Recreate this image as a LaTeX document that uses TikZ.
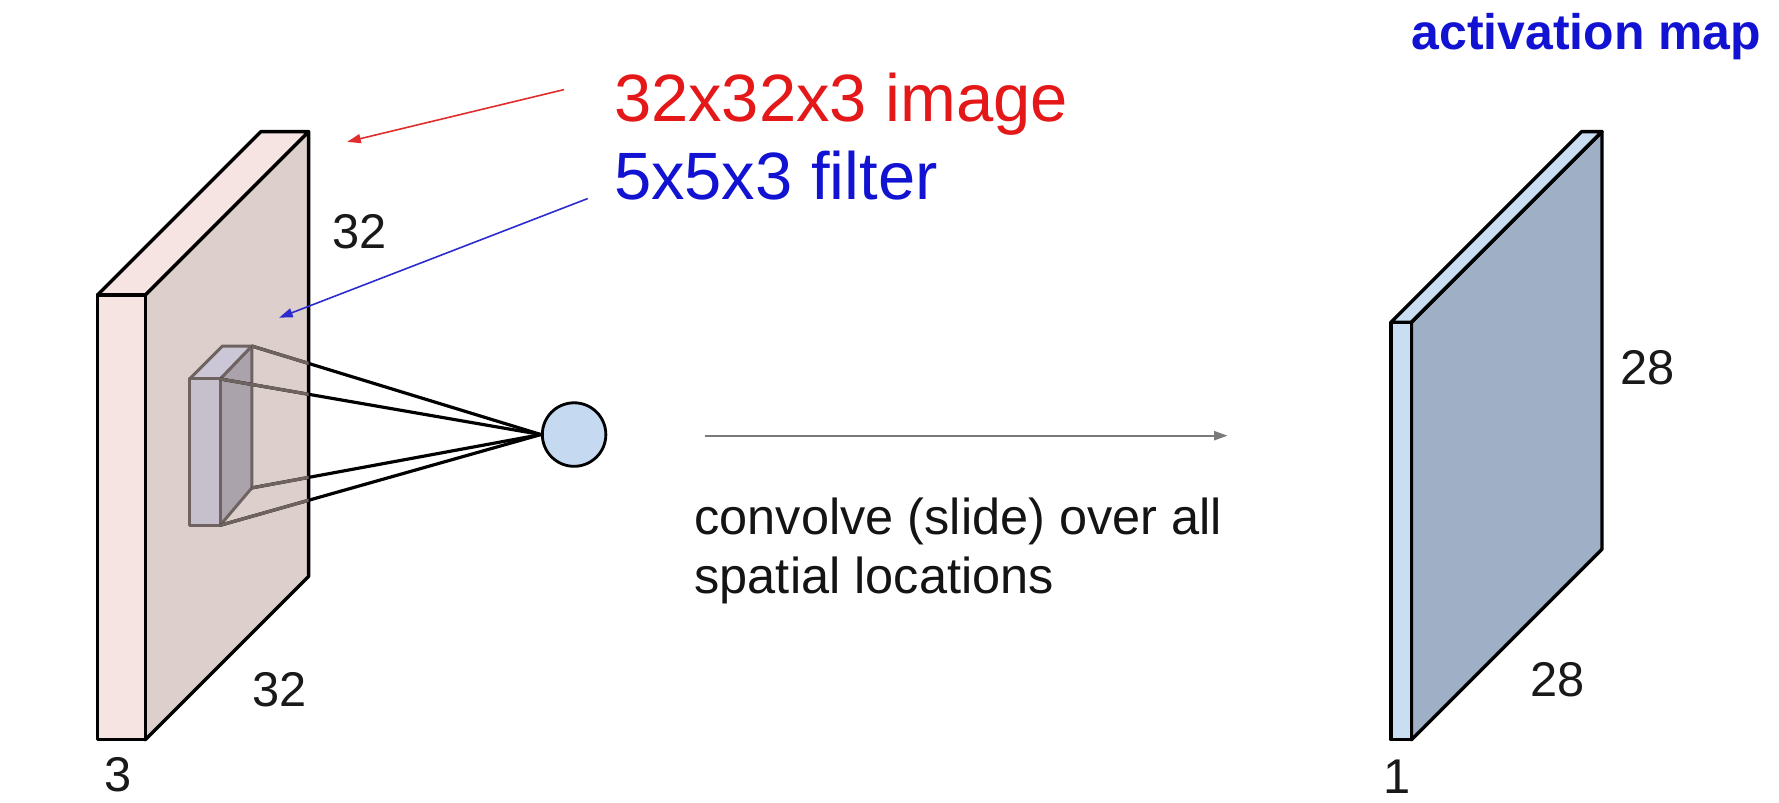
\documentclass[tikz,border=0pt]{standalone}
\usepackage{fontspec}
\setmainfont{Liberation Sans}
\usetikzlibrary{arrows.meta}
\definecolor{slabfront}{HTML}{F5E4E1}
\definecolor{slabside}{HTML}{DDCFCB}
\definecolor{filtfront}{HTML}{C6BFCC}
\definecolor{filttop}{HTML}{CCC7D6}
\definecolor{filtside}{HTML}{ABA3AB}
\definecolor{filtedge}{HTML}{6E6360}
\definecolor{neuronfill}{HTML}{C5DAF1}
\definecolor{mapfront}{HTML}{C9DDF3}
\definecolor{mapside}{HTML}{9FAFC5}
\definecolor{txtred}{HTML}{E41818}
\definecolor{txtblue}{HTML}{1212D2}
\definecolor{linered}{HTML}{E02C2C}
\definecolor{lineblue}{HTML}{2B2BD0}
\definecolor{greyarrow}{HTML}{7A7A7A}
\tikzset{
  slabline/.style={draw=black, line width=3pt, line join=round},
  filtline/.style={draw=filtedge, line width=2.6pt, line join=round},
  conn/.style={draw=black, line width=2.8pt},
  conninner/.style={draw=filtedge, line width=2.8pt},
  dimlabel/.style={font=\fontsize{43}{50}\selectfont, anchor=base west, inner sep=0pt, text=black!90},
  bigred/.style={font=\fontsize{59}{68}\selectfont, anchor=base west, inner sep=0pt, text=txtred},
  bigblue/.style={font=\fontsize{59}{68}\selectfont, anchor=base west, inner sep=0pt, text=txtblue},
  convtext/.style={font=\fontsize{44.5}{52}\selectfont, anchor=base west, inner sep=0pt, text=black!92},
}
\begin{document}
\begin{tikzpicture}[x=1pt,y=-1pt]
\useasboundingbox (0,0) rectangle (1568,707);
\fill[white] (0,0) rectangle (1568,707);

% ---- input volume 32x32x3
\coordinate (sA) at (86,260);
\coordinate (sB) at (128,260);
\coordinate (sC) at (128,652);
\coordinate (sD) at (86,652);
\coordinate (sE) at (230,116);
\coordinate (sF) at (272,116);
\coordinate (sG) at (272,508);
\filldraw[slabline, fill=slabside] (sB) -- (sF) -- (sG) -- (sC) -- cycle;
\filldraw[slabline, fill=slabfront] (sA) -- (sE) -- (sF) -- (sB) -- cycle;
\filldraw[slabline, fill=slabfront] (sA) -- (sB) -- (sC) -- (sD) -- cycle;

% ---- filter 5x5x3
\coordinate (fA) at (167,334);
\coordinate (fB) at (194,334);
\coordinate (fC) at (194,463);
\coordinate (fD) at (167,463);
\coordinate (fE) at (196,305);
\coordinate (fF) at (222,305);
\coordinate (fG) at (222,430);
\filldraw[filtline, fill=filtside] (fB) -- (fF) -- (fG) -- (fC) -- cycle;
\filldraw[filtline, fill=filttop] (fA) -- (fE) -- (fF) -- (fB) -- cycle;
\filldraw[filtline, fill=filtfront] (fA) -- (fB) -- (fC) -- (fD) -- cycle;

% ---- neuron
\node[circle, draw=black, line width=2.5pt, fill=neuronfill, minimum size=56pt, inner sep=0pt] (neuron) at (506,383) {};

% connectors from filter corners to neuron
\foreach \c in {fF,fB,fG,fC} \draw[conn] (\c) -- (neuron.west);
\begin{scope}
  \clip (sB) -- (sF) -- (sG) -- (sC) -- cycle;
  \foreach \c in {fF,fB,fG,fC} \draw[conninner] (\c) -- (neuron.west);
\end{scope}

% ---- labels of input volume
\node[dimlabel] (l32a) at (293,219) {32};
\node[dimlabel] (l32b) at (222,623) {32};
\node[dimlabel] (l3) at (92,698) {3};

% ---- annotation texts and arrows
\node[bigred] (imgtxt) at (541,107) {32x32x3 image};
\node[bigblue] (filttxt) at (541,176) {5x5x3 filter};
\coordinate (redS) at (497,79);
\coordinate (redE) at (306,125);
\draw[linered, line width=1.4pt, -{Triangle[length=12pt,width=8pt]}] (redS) -- (redE);
\coordinate (blueS) at (518,175);
\coordinate (blueE) at (246,280);
\draw[lineblue, line width=1.4pt, -{Triangle[length=12pt,width=8pt]}] (blueS) -- (blueE);

% ---- convolve arrow
\coordinate (gS) at (621,384);
\coordinate (gE) at (1082,384);
\draw[greyarrow, line width=2pt, -{Triangle[length=12pt,width=8pt]}] (gS) -- (gE);
\node[convtext] (conv1) at (612,471.5) {convolve (slide) over all};
\node[convtext] (conv2) at (612,523) {spatial locations};

% ---- activation map
\coordinate (mA) at (1226,284);
\coordinate (mB) at (1244,284);
\coordinate (mC) at (1244,652);
\coordinate (mD) at (1226,652);
\coordinate (mE) at (1394,116);
\coordinate (mF) at (1412,116);
\coordinate (mG) at (1412,484);
\filldraw[slabline, fill=mapside] (mB) -- (mF) -- (mG) -- (mC) -- cycle;
\filldraw[slabline, fill=mapfront] (mA) -- (mE) -- (mF) -- (mB) -- cycle;
\filldraw[slabline, fill=mapfront] (mA) -- (mB) -- (mC) -- (mD) -- cycle;

\node[dimlabel] (l28a) at (1428,339) {28};
\node[dimlabel] (l28b) at (1349,614) {28};
\node[dimlabel] (l1) at (1219,699) {1};
\node[font=\fontsize{44}{52}\selectfont\bfseries, anchor=base west, inner sep=0pt, text=txtblue] (acttxt) at (1244,44) {activation map};
\end{tikzpicture}
\end{document}
